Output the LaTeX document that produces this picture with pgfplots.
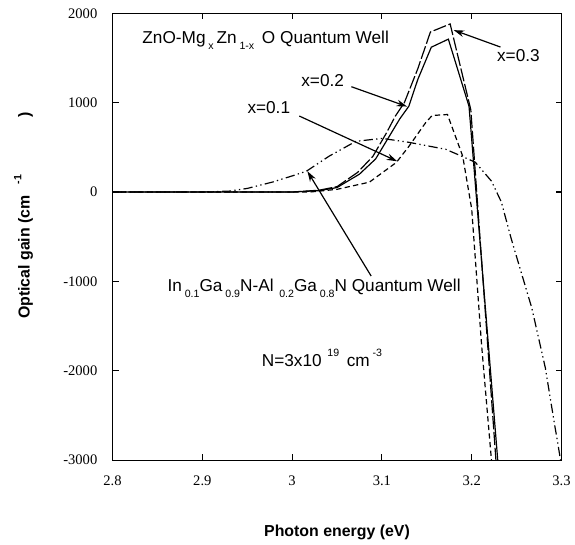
\documentclass[border=0pt]{standalone}
\usepackage{fontspec}
\setmainfont{Liberation Serif}
\setsansfont{Liberation Sans}
\usepackage{pgfplots}
\pgfplotsset{compat=1.18}
\usetikzlibrary{arrows.meta}

% small raised / lowered indices, as in the original figure
\newcommand{\sub}[1]{\raisebox{-0.6ex}{\fontsize{8}{8}\selectfont #1}}
\newcommand{\sups}[1]{\raisebox{1.0ex}{\fontsize{8}{8}\selectfont #1}}
\newcommand{\annfont}{\fontsize{13}{13}\selectfont\sffamily}

\begin{document}
\begin{tikzpicture}
\begin{axis}[
    scale only axis,
    width=339pt, height=337.5pt,
    xmin=2.8, xmax=3.3, ymin=-3000, ymax=2000,
    xtick={2.8,2.9,3,3.1,3.2,3.3},
    ytick={-3000,-2000,-1000,0,1000,2000},
    scaled y ticks=false,
    /pgf/number format/1000 sep={},
    /pgf/number format/assume math mode=true,
    tick align=inside,
    major tick length=4.5pt,
    tick style={black, line width=0.8pt},
    axis line style={line width=0.9pt},
    ticklabel style={font=\fontsize{11}{11}\selectfont},
    xticklabel style={yshift=-8pt},
    yticklabel style={xshift=-8pt},
    xlabel={\fontsize{12}{12}\selectfont\sffamily\bfseries Photon energy (eV)},
    ylabel={\fontsize{12}{12}\selectfont\sffamily\bfseries Optical gain (cm\hspace{0.7em}\sups{-1}\hspace{3.6em})},
    xlabel style={yshift=-23pt},
    ylabel style={yshift=16pt, xshift=16pt},
    no markers,
    every axis plot/.append style={black, line width=0.9pt},
]

% x = 0.2 (solid)
\addplot[black, solid] coordinates {
 (2.8,0) (3.0,0) (3.03,15) (3.05,50) (3.075,200) (3.093,370) (3.108,620)
 (3.12,820) (3.13,960) (3.14,1260) (3.155,1620) (3.174,1710) (3.197,960)
 (3.229,-3000)};

% x = 0.3 (long dash)
\addplot[black, dash pattern=on 10pt off 2pt] coordinates {
 (2.8,0) (3.0,0) (3.03,20) (3.05,60) (3.073,220) (3.09,400) (3.105,660)
 (3.115,850) (3.125,1000) (3.14,1380) (3.154,1790) (3.176,1880) (3.199,920)
 (3.227,-3000)};

% x = 0.1 (short dash)
\addplot[black, dash pattern=on 4pt off 2.5pt] coordinates {
 (2.8,0) (3.02,0) (3.05,30) (3.086,110) (3.116,330) (3.13,510) (3.149,780)
 (3.156,856) (3.173,867) (3.19,400) (3.2,-190) (3.211,-1710) (3.222,-3000)};

% InGaN-AlGaN (dash dot dot)
\addplot[black, dash pattern=on 7pt off 2.5pt on 1pt off 2.5pt on 1pt off 2.5pt] coordinates {
 (2.8,0) (2.9,0) (2.93,10) (2.95,40) (2.978,111) (3.0,180) (3.016,233)
 (3.041,400) (3.071,567) (3.1,600) (3.13,556) (3.171,478) (3.189,400)
 (3.204,333) (3.222,122) (3.233,-111) (3.244,-522) (3.267,-1300)
 (3.282,-1967) (3.291,-2522) (3.299,-3000)};

% annotations
\node[anchor=west, inner sep=0pt] at (axis cs:2.833,1700)
  {\annfont ZnO-Mg\,\sub{x}\,Zn\,\sub{1-x}\, O Quantum Well};
\node[anchor=west, inner sep=0pt] at (axis cs:3.228,1530) {\annfont x=0.3};
\node[anchor=west, inner sep=0pt] at (axis cs:3.01,1250) {\annfont x=0.2};
\node[anchor=west, inner sep=0pt] at (axis cs:2.95,950) {\annfont x=0.1};
\node[anchor=west, inner sep=0pt] at (axis cs:2.861,-1078)
  {\annfont In\,\sub{0.1}Ga\,\sub{0.9}N-Al\,\,\sub{0.2}Ga\,\sub{0.8}N Quantum Well};
\node[anchor=west, inner sep=0pt] at (axis cs:2.966,-1856)
  {\annfont N=3x10\,\,\sups{19}\, cm\,\sups{-3}};

\draw[line width=0.9pt, -{Stealth[length=8pt, width=5pt]}]
  (axis cs:3.232,1622) -- (axis cs:3.180,1811);
\draw[line width=0.9pt, -{Stealth[length=8pt, width=5pt]}]
  (axis cs:3.066,1178) -- (axis cs:3.128,956);
\draw[line width=0.9pt, -{Stealth[length=8pt, width=5pt]}]
  (axis cs:3.008,850) -- (axis cs:3.117,344);
\draw[line width=0.9pt, -{Stealth[length=8pt, width=5pt]}]
  (axis cs:3.088,-940) -- (axis cs:3.017,233);

\end{axis}
% white space above and to the left of the frame, as in the reference
\path ([yshift=10pt]current axis.north);
\path ([xshift=-85pt]current axis.west);
\end{tikzpicture}
\end{document}
